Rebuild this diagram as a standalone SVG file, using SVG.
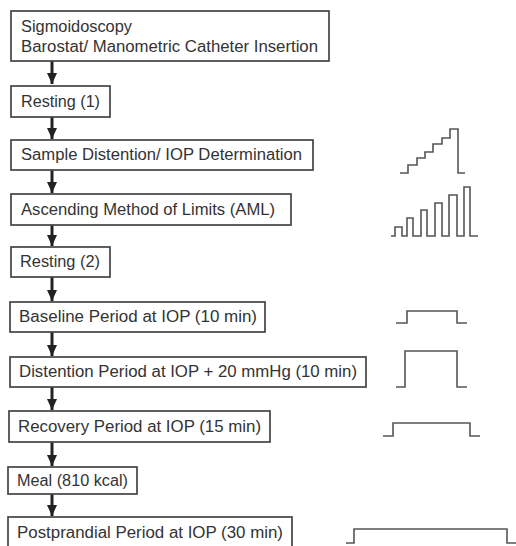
<svg xmlns="http://www.w3.org/2000/svg" width="516" height="546" viewBox="0 0 516 546">
<defs>
<marker id="ah" markerUnits="userSpaceOnUse" markerWidth="12" markerHeight="10" refX="11" refY="5" orient="auto">
<path d="M0,0 L11,5 L0,10 Z" fill="#222"/>
</marker>
<style>
.box{fill:#fff;stroke:#444;stroke-width:1.7}
.t{font-family:"Liberation Sans",Arial,sans-serif;font-size:16px;fill:#333}
.conn{stroke:#222;stroke-width:3;fill:none}
.wave{stroke:#555;stroke-width:1.6;fill:none;stroke-linejoin:miter}
</style>
</defs>
<rect width="516" height="546" fill="#fff"/>
<g id="connectors">
<line class="conn" x1="52" y1="61" x2="52" y2="84" marker-end="url(#ah)"/>
<line class="conn" x1="52" y1="117" x2="52" y2="139" marker-end="url(#ah)"/>
<line class="conn" x1="52" y1="170" x2="52" y2="193" marker-end="url(#ah)"/>
<line class="conn" x1="52" y1="225" x2="52" y2="246" marker-end="url(#ah)"/>
<line class="conn" x1="52" y1="277" x2="52" y2="301" marker-end="url(#ah)"/>
<line class="conn" x1="52" y1="332" x2="52" y2="356" marker-end="url(#ah)"/>
<line class="conn" x1="52" y1="387" x2="52" y2="410" marker-end="url(#ah)"/>
<line class="conn" x1="52" y1="442" x2="52" y2="466" marker-end="url(#ah)"/>
<line class="conn" x1="52" y1="494" x2="52" y2="516" marker-end="url(#ah)"/>
</g>
<g id="n1"><rect class="box" x="11" y="11" width="318" height="50"/>
<text class="t" x="21" y="32" textLength="111" lengthAdjust="spacingAndGlyphs">Sigmoidoscopy</text>
<text class="t" x="21" y="52" textLength="297" lengthAdjust="spacingAndGlyphs">Barostat/ Manometric Catheter Insertion</text></g>
<g id="n2"><rect class="box" x="11" y="86" width="99" height="31"/>
<text class="t" x="21" y="107" textLength="79" lengthAdjust="spacingAndGlyphs">Resting (1)</text></g>
<g id="n3"><rect class="box" x="11" y="140" width="302" height="30"/>
<text class="t" x="21" y="160" textLength="281" lengthAdjust="spacingAndGlyphs">Sample Distention/ IOP Determination</text></g>
<g id="n4"><rect class="box" x="11" y="194" width="280" height="31"/>
<text class="t" x="21" y="215" textLength="254" lengthAdjust="spacingAndGlyphs">Ascending Method of Limits (AML)</text></g>
<g id="n5"><rect class="box" x="11" y="247" width="99" height="30"/>
<text class="t" x="20" y="267" textLength="80" lengthAdjust="spacingAndGlyphs">Resting (2)</text></g>
<g id="n6"><rect class="box" x="10" y="302" width="255" height="30"/>
<text class="t" x="19" y="322" textLength="238" lengthAdjust="spacingAndGlyphs">Baseline Period at IOP (10 min)</text></g>
<g id="n7"><rect class="box" x="10" y="357" width="356" height="30"/>
<text class="t" x="19" y="377" textLength="338" lengthAdjust="spacingAndGlyphs">Distention Period at IOP + 20 mmHg (10 min)</text></g>
<g id="n8"><rect class="box" x="9" y="411" width="261" height="31"/>
<text class="t" x="18" y="432" textLength="243" lengthAdjust="spacingAndGlyphs">Recovery Period at IOP (15 min)</text></g>
<g id="n9"><rect class="box" x="8" y="467" width="129" height="27"/>
<text class="t" x="17" y="486" textLength="111" lengthAdjust="spacingAndGlyphs">Meal (810 kcal)</text></g>
<g id="n10"><rect class="box" x="8" y="517" width="284" height="30"/>
<text class="t" x="17" y="538" textLength="266" lengthAdjust="spacingAndGlyphs">Postprandial Period at IOP (30 min)</text></g>
<g id="waveforms">
<path class="wave" d="M400,173 H408 V165 H417 V158 H425 V152 H433 V144 H442 V138 H450 V129 H458 V173 H465"/>
<path class="wave" d="M391,236 H395 V227 H402 V236 H407 V218 H413 V236 H421 V210 H427 V236 H435 V203 H442 V236 H449 V195 H457 V236 H464 V187 H470 V236 H478"/>
<path class="wave" d="M396,323 H407 V311 H457 V323 H467"/>
<path class="wave" d="M396,387 H405 V351 H457 V387 H467"/>
<path class="wave" d="M383,436 H393 V423 H470 V436 H480"/>
<path class="wave" d="M346,543 H354 V529 H507 V543 H516"/>
</g>
</svg>
